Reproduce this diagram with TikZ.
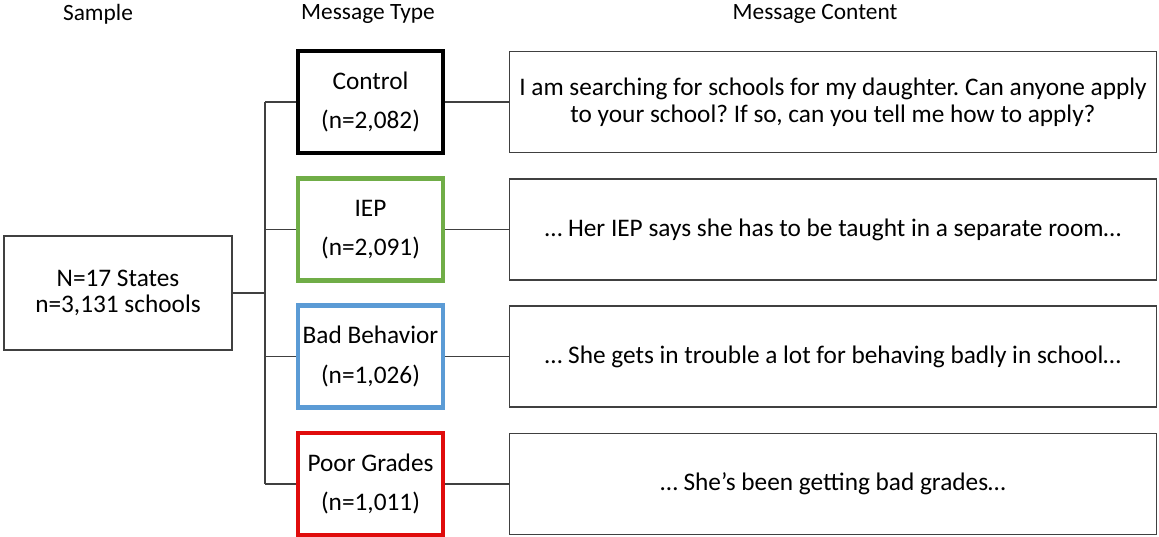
\documentclass[tikz,border=0pt]{standalone}
\usepackage{fontspec}
\setmainfont{Carlito}
\frenchspacing
\definecolor{edgegray}{HTML}{404040}
\definecolor{iepgreen}{HTML}{70AD47}
\definecolor{behavblue}{HTML}{5B9BD5}
\definecolor{gradesred}{HTML}{E00C0C}
\tikzset{
    typebox/.style={draw, line width=2.4pt, minimum width=145*0.02cm, minimum height=102*0.02cm, align=center, inner sep=0pt, font=\fontsize{14.4}{15.4}\selectfont},
    msgbox/.style={draw=edgegray, line width=0.8pt, minimum width=647*0.02cm, minimum height=101*0.02cm, align=center, inner sep=0pt, font=\fontsize{14.4}{15.2}\selectfont},
    link/.style={draw=edgegray, line width=0.8pt}
}

\begin{document}
\begin{tikzpicture}[x=0.02cm, y=-0.02cm, font=\fontsize{13.3}{15.4}\selectfont]
    \useasboundingbox (0,0) rectangle (1159,537);

    % Headers
    \node (hsample) at (98,14) {Sample};
    \node (htype) at (368,14) {Message Type};
    \node (hcontent) at (815,14) {Message Content};

    % Sample
    \node[msgbox, minimum width=228*0.02cm, minimum height=114*0.02cm] (sample) at (118,293)
        {N=17 States\\n=3,131 schools};

    % Message types
    \node[typebox, draw=black, line width=2.8pt] (control) at (370.5,102) {Control\\[7.2pt](n=2,082)};
    \node[typebox, draw=iepgreen] (iep) at (370.5,229.5) {IEP\\[7.2pt](n=2,091)};
    \node[typebox, draw=behavblue] (behav) at (370.5,356.5) {Bad Behavior\\[7.2pt](n=1,026)};
    \node[typebox, draw=gradesred] (grades) at (370.5,484) {Poor Grades\\[7.2pt](n=1,011)};

    % Message content
    \node[msgbox] (ctrlmsg) at (833,102) {I am searching for schools for my daughter. Can anyone apply\\to your school? If so, can you tell me how to apply?};
    \node[msgbox] (iepmsg) at (833,229.5) {\dots\ Her IEP says she has to be taught in a separate room\dots};
    \node[msgbox] (behavmsg) at (833,356.5) {\dots\ She gets in trouble a lot for behaving badly in school\dots};
    \node[msgbox] (gradesmsg) at (833,484) {\dots\ She’s been getting bad grades\dots};

    % Bracket
    \coordinate (split) at (265,293);
    \draw[link] (sample.east) -- (split);
    \draw[link] (split |- control.west) -- (split |- grades.west);
    \foreach \t/\m in {control/ctrlmsg, iep/iepmsg, behav/behavmsg, grades/gradesmsg} {
        \draw[link] (split |- \t.west) -- (\t.west);
        \draw[link] (\t.east) -- (\m.west);
    }
\end{tikzpicture}
\end{document}
